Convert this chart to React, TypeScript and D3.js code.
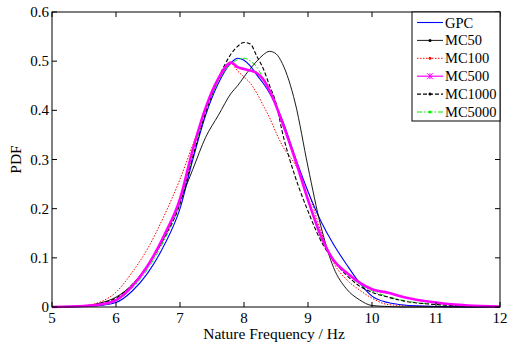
import React, { Component } from "react";
import * as d3 from "d3";

const freq = [5, 5.5, 5.75, 6, 6.25, 6.5, 6.75, 7, 7.2, 7.4, 7.6, 7.8, 7.9, 8.0, 8.1, 8.2, 8.3, 8.4, 8.5, 8.6, 8.8, 9.0, 9.2, 9.4, 9.6, 9.8, 10, 10.25, 10.5, 11, 11.5, 12];

const gpc = [0, 0.001, 0.003, 0.009, 0.032, 0.07, 0.125, 0.2, 0.3, 0.39, 0.455, 0.497, 0.506, 0.502, 0.49, 0.472, 0.455, 0.435, 0.41, 0.38, 0.305, 0.235, 0.175, 0.127, 0.087, 0.05, 0.022, 0.009, 0.004, 0.001, 0, 0];
const mc50 = [0, 0.002, 0.008, 0.02, 0.045, 0.085, 0.14, 0.215, 0.28, 0.345, 0.39, 0.435, 0.45, 0.468, 0.485, 0.5, 0.513, 0.52, 0.515, 0.495, 0.415, 0.285, 0.165, 0.08, 0.037, 0.015, 0.003, 0.001, 0, 0, 0, 0];
const mc100 = [0, 0.003, 0.01, 0.03, 0.07, 0.12, 0.185, 0.26, 0.33, 0.4, 0.46, 0.495, 0.48, 0.468, 0.455, 0.435, 0.41, 0.385, 0.355, 0.328, 0.29, 0.235, 0.155, 0.09, 0.056, 0.035, 0.018, 0.005, 0.003, 0.001, 0, 0];
const mc500 = [0, 0.002, 0.005, 0.014, 0.042, 0.085, 0.145, 0.22, 0.32, 0.405, 0.465, 0.497, 0.488, 0.484, 0.481, 0.476, 0.463, 0.44, 0.41, 0.375, 0.3, 0.218, 0.145, 0.095, 0.07, 0.05, 0.036, 0.029, 0.02, 0.009, 0.003, 0.001];
const mc1000 = [0, 0.002, 0.007, 0.018, 0.045, 0.085, 0.14, 0.21, 0.305, 0.395, 0.465, 0.515, 0.53, 0.538, 0.535, 0.51, 0.485, 0.45, 0.415, 0.355, 0.265, 0.195, 0.135, 0.095, 0.065, 0.043, 0.03, 0.02, 0.012, 0.005, 0.002, 0.001];
const mc5000 = [0, 0.001, 0.004, 0.012, 0.038, 0.078, 0.135, 0.21, 0.31, 0.395, 0.46, 0.495, 0.503, 0.506, 0.5, 0.488, 0.465, 0.44, 0.41, 0.375, 0.3, 0.22, 0.14, 0.097, 0.07, 0.047, 0.033, 0.021, 0.013, 0.005, 0.002, 0.001];

const seriesNames = ["GPC", "MC50", "MC100", "MC500", "MC1000", "MC5000"];
const xTicks = [5, 6, 7, 8, 9, 10, 11, 12];
const yTicks = [0, 0.1, 0.2, 0.3, 0.4, 0.5, 0.6];

const styles = [
  { color: "#0000ff", width: 1.1, dash: null, marker: "none" },
  { color: "#000000", width: 0.9, dash: null, marker: "dot" },
  { color: "#ff0000", width: 1, dash: "1.5,1.5", marker: "dot" },
  { color: "#ff00ff", width: 2.6, dash: null, marker: "plus" },
  { color: "#000000", width: 1.1, dash: "4,2", marker: "dot" },
  { color: "#00ee00", width: 1, dash: "5,2,1.5,2", marker: "dot" },
];

export default class App extends Component {
  chartRef: any;
  componentDidMount(): void {
    document.body.style.margin = "0";
    const data = [gpc, mc50, mc100, mc500, mc1000, mc5000];
    const width = 513;
    const height = 346;
    const left = 52, right = 500, top = 12, bottom = 307;
    const font = "'Liberation Serif', 'Times New Roman', serif";

    const chart = d3.select(this.chartRef).attr("width", width).attr("height", height);
    chart.selectAll("*").remove();

    const x = d3.scaleLinear().domain([5, 12]).range([left, right]);
    const y = d3.scaleLinear().domain([0, 0.6]).range([bottom, top]);

    const line = d3
      .line<number>()
      .x((d, i) => x(freq[i]))
      .y((d) => y(d))
      .curve(d3.curveMonotoneX);

    // 曲线
    const draw = [2, 0, 5, 4, 1, 3];
    draw.forEach((k) => {
      const s = styles[k];
      chart
        .append("path")
        .datum(data[k])
        .attr("d", line as any)
        .attr("fill", "none")
        .attr("stroke", s.color)
        .attr("stroke-width", s.width)
        .attr("stroke-dasharray", s.dash)
        .attr("stroke-linejoin", "round");
    });

    // 坐标框
    chart
      .append("rect")
      .attr("x", left)
      .attr("y", top)
      .attr("width", right - left)
      .attr("height", bottom - top)
      .attr("fill", "none")
      .attr("stroke", "#000")
      .attr("stroke-width", 1);

    const tickLen = 5;
    xTicks.forEach((t) => {
      chart.append("line").attr("x1", x(t)).attr("x2", x(t)).attr("y1", bottom).attr("y2", bottom - tickLen).attr("stroke", "#000");
      chart.append("line").attr("x1", x(t)).attr("x2", x(t)).attr("y1", top).attr("y2", top + tickLen).attr("stroke", "#000");
      chart
        .append("text")
        .attr("x", x(t))
        .attr("y", 323)
        .attr("text-anchor", "middle")
        .attr("font-family", font)
        .attr("font-size", 15)
        .text(t);
    });
    yTicks.forEach((t) => {
      chart.append("line").attr("x1", left).attr("x2", left + tickLen).attr("y1", y(t)).attr("y2", y(t)).attr("stroke", "#000");
      chart.append("line").attr("x1", right).attr("x2", right - tickLen).attr("y1", y(t)).attr("y2", y(t)).attr("stroke", "#000");
      chart
        .append("text")
        .attr("x", left - 3)
        .attr("y", y(t) + 5)
        .attr("text-anchor", "end")
        .attr("font-family", font)
        .attr("font-size", 15)
        .text(t === 0 ? "0" : t.toFixed(1));
    });

    chart
      .append("text")
      .attr("x", (left + right) / 2 - 2)
      .attr("y", 339)
      .attr("text-anchor", "middle")
      .attr("font-family", font)
      .attr("font-size", 15.5)
      .text("Nature Frequency / Hz");
    chart
      .append("text")
      .attr("transform", `translate(21, ${(top + bottom) / 2}) rotate(-90)`)
      .attr("text-anchor", "middle")
      .attr("font-family", font)
      .attr("font-size", 15.5)
      .text("PDF");

    // 图例
    const lg = chart.append("g").attr("class", "legend");
    lg.append("rect")
      .attr("x", 412)
      .attr("y", top)
      .attr("width", right - 412)
      .attr("height", 121 - top)
      .attr("fill", "#fff")
      .attr("stroke", "#000")
      .attr("stroke-width", 1);
    seriesNames.forEach((name, i) => {
      const s = styles[i];
      const ly = 22.5 + i * 17.9;
      lg.append("line")
        .attr("x1", 417)
        .attr("x2", 443)
        .attr("y1", ly)
        .attr("y2", ly)
        .attr("stroke", s.color)
        .attr("stroke-width", i === 3 ? 1.2 : s.width)
        .attr("stroke-dasharray", s.dash);
      if (s.marker === "dot") {
        lg.append("circle").attr("cx", 430).attr("cy", ly).attr("r", 1.5).attr("fill", s.color);
      } else if (s.marker === "plus") {
        lg.append("path")
          .attr("d", `M427,${ly - 3}L433,${ly + 3}M427,${ly + 3}L433,${ly - 3}M430,${ly - 3}L430,${ly + 3}`)
          .attr("stroke", s.color)
          .attr("stroke-width", 1);
      }
      lg.append("text")
        .attr("x", 445)
        .attr("y", ly + 5)
        .attr("font-family", font)
        .attr("font-size", 14.5)
        .text(name);
    });
  }
  render() {
    return (
      <div style={{ width: "100%" }}>
        <svg ref={(r) => (this.chartRef = r)}></svg>
      </div>
    );
  }
}
